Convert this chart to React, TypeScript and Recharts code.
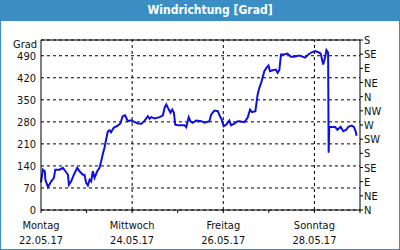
import { CartesianGrid, Line, LineChart, ReferenceLine, XAxis, YAxis } from "recharts";

// hours since Montag 22.05.17 00:00
const hours = [
  0, 1, 2, 2.3, 3.7, 5.4, 6.8, 7.5, 9.8, 11.5, 12.4, 14.2, 14.7, 15.9, 17.3, 19.1, 20.3, 22, 22.9, 23.8,
  24.7, 25.6, 26.4, 27.3, 28.2, 29.6, 30.8, 31.7, 32.5, 33.4, 34.3, 35.2, 36.1, 36.9, 38.3, 40.4, 41.8, 43,
  44.3, 45.7, 47.4, 49.2, 50.9, 52.9, 54.6, 56.3, 57.2, 58.1, 59.8, 62.5, 64.2, 65.1, 66, 67.3, 68.2, 69.1,
  70, 70.7, 72.1, 75.6, 76.5, 77.8, 78.7, 79.9, 81.7, 84.4, 86.1, 88.7, 89.6, 91.3, 93.1, 94, 95.4, 96.2,
  97.5, 99.2, 100.1, 101.8, 103.6, 104.5, 107.1, 108.8, 110.1, 111.1, 112.9, 114.1, 115, 116.2, 117.6,
  118.8, 119.8, 120.6, 121.9, 123.7, 124.6, 125.5, 126.4, 128.1, 129.8, 131.6, 133.3, 135.9, 137.7, 139.1,
  140.8, 142.6, 144.3, 146.1, 147.3, 148.6, 149.6, 150.3, 151.2, 151.5, 151.8, 152.1, 153.4, 154.9, 156.1,
  157.8, 159.2, 160.8, 161.8, 163.6, 164.8, 165.7, 166.2,
];
const direction = [
  88, 128, 123, 96, 73, 91, 102, 128, 128, 134, 127, 112, 80, 91, 112, 134, 123, 112, 112, 86,
  78, 96, 91, 123, 102, 123, 134, 155, 176, 197, 224, 250, 253, 247, 261, 268, 275, 298,
  301, 282, 285, 280, 275, 274, 284, 298, 290, 295, 291, 295, 301, 325, 335, 319, 309, 319,
  309, 271, 269, 269, 263, 295, 282, 277, 284, 282, 277, 282, 303, 316, 314, 301, 284, 266,
  271, 284, 269, 274, 282, 282, 279, 293, 319, 311, 314, 367, 388, 409, 441,
  452, 459, 441, 444, 446, 436, 444, 494, 494, 497, 487, 487, 491, 487, 484,
  494, 501, 505, 501, 497, 462, 484, 508, 500, 182, 264, 264, 264, 264, 255,
  264, 250, 255, 264, 268, 264, 250, 236,
];

const leftTicks = [0, 70, 140, 210, 280, 350, 420, 490];
const compassTicks = [0, 45, 90, 135, 180, 225, 270, 315, 360, 405, 450, 495, 540];
const compassLabels = ["N", "NE", "E", "SE", "S", "SW", "W", "NW", "N", "NE", "E", "SE", "S"];
const dayTicks = [0, 24, 48, 72, 96, 120, 144, 168];
const labelledHours = [0, 48, 96, 144];
const dayNames = ["Montag", "Mittwoch", "Freitag", "Sonntag"];
const dayDates = ["22.05.17", "24.05.17", "26.05.17", "28.05.17"];

const data = hours.map((h, i) => ({ h, v: direction[i] }));

const FONT = "'DejaVu Sans Condensed', 'DejaVu Sans', sans-serif";
const BLUE = "#3b8ec4";

const DayTick = (props: any) => {
  const { x, y, payload } = props;
  const idx = labelledHours.indexOf(payload.value);
  if (idx < 0) return null;
  return (
    <g>
      <text x={x} y={y} dy={14} textAnchor="middle" fontSize={11} fontFamily={FONT} fill="#111">
        {dayNames[idx]}
      </text>
      <text x={x} y={y} dy={28.5} textAnchor="middle" fontSize={11} fontFamily={FONT} fill="#111">
        {dayDates[idx]}
      </text>
    </g>
  );
};

const CompassTick = (props: any) => {
  const { x, y, payload } = props;
  const label = compassLabels[compassTicks.indexOf(payload.value)];
  return (
    <text x={x} y={y} dy={4} textAnchor="start" fontSize={11} fontFamily={FONT} fill="#111">
      {label}
    </text>
  );
};

const App = () => {
  return (
    <div style={{ position: "relative", width: 400, height: 250, background: "#fff" }}>
      <style>{"body{margin:0}"}</style>
      <div
        style={{
          position: "absolute",
          left: 0,
          top: 0,
          width: 400,
          height: 21,
          background: BLUE,
          color: "#fff",
          fontFamily: FONT,
          fontWeight: "bold",
          fontSize: 12,
          lineHeight: "21px",
          textAlign: "center",
          paddingLeft: 20,
          boxSizing: "border-box",
        }}
      >
        Windrichtung [Grad]
      </div>
      <div
        style={{
          position: "absolute",
          left: 13,
          top: 39,
          width: 23,
          textAlign: "right",
          fontFamily: FONT,
          fontSize: 11,
          lineHeight: "11px",
          color: "#111",
        }}
      >
        Grad
      </div>
      <LineChart width={400} height={250} data={data} margin={{ top: 40, right: 0, bottom: 0, left: 0 }}>
        <CartesianGrid yAxisId="l" vertical={false} stroke="#000" strokeDasharray="3 3" />
        <XAxis
          dataKey="h"
          type="number"
          domain={[0, 168]}
          ticks={dayTicks}
          height={40}
          stroke="#000"
          tickSize={3}
          tickMargin={2}
          tick={<DayTick />}
          interval={0}
        />
        <YAxis
          yAxisId="l"
          domain={[0, 540]}
          ticks={leftTicks}
          width={41}
          stroke="#000"
          tickLine={false}
          tickSize={0}
          tickMargin={5}
          interval={0}
          tick={{ fontSize: 11, fontFamily: FONT, fill: "#111" }}
        />
        <YAxis
          yAxisId="r"
          orientation="right"
          type="number"
          domain={[0, 540]}
          ticks={compassTicks}
          width={40}
          stroke="#000"
          tickSize={3}
          tickMargin={1}
          interval={0}
          tick={<CompassTick />}
        />
        <ReferenceLine yAxisId="l" y={540} stroke="#000" />
        {labelledHours.slice(1).map((h) => (
          <ReferenceLine key={h} yAxisId="l" x={h} stroke="#000" strokeDasharray="3 3" />
        ))}
        <Line
          yAxisId="r"
          dataKey="v"
          type="linear"
          stroke="none"
          dot={false}
          activeDot={false}
          isAnimationActive={false}
        />
        <Line
          yAxisId="l"
          dataKey="v"
          type="linear"
          stroke="#1010dd"
          strokeWidth={2}
          dot={false}
          isAnimationActive={false}
        />
      </LineChart>
      <div
        style={{
          position: "absolute",
          left: 0,
          top: 0,
          width: 400,
          height: 250,
          border: `1px solid ${BLUE}`,
          boxSizing: "border-box",
          pointerEvents: "none",
        }}
      />
    </div>
  );
};

export default App;
